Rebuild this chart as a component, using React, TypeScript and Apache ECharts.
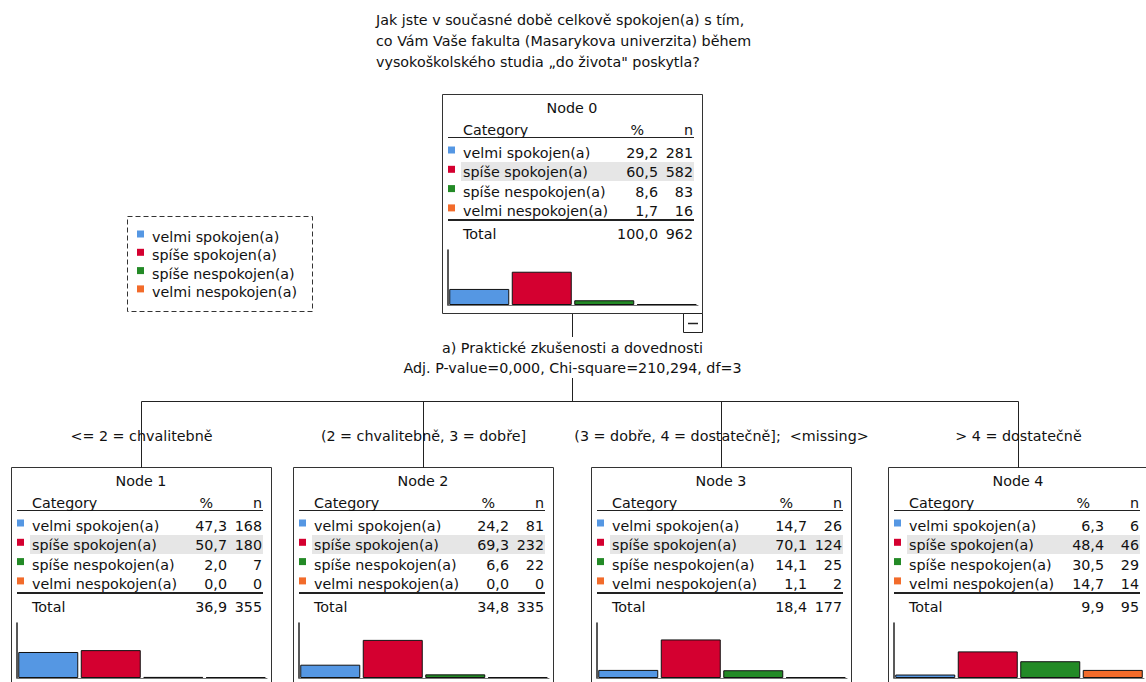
import React, { useEffect, useRef } from "react";
import * as echarts from "echarts";

// ---------- DATA ----------
const titleLines = [
  "Jak jste v současné době celkově spokojen(a) s tím,",
  "co Vám Vaše fakulta (Masarykova univerzita) během",
  "vysokoškolského studia „do života\" poskytla?",
];
const categories = [
  "velmi spokojen(a)",
  "spíše spokojen(a)",
  "spíše nespokojen(a)",
  "velmi nespokojen(a)",
];
const nodeNames = ["Node 0", "Node 1", "Node 2", "Node 3", "Node 4"];
const nodePct = [
  [29.2, 60.5, 8.6, 1.7],
  [47.3, 50.7, 2.0, 0.0],
  [24.2, 69.3, 6.6, 0.0],
  [14.7, 70.1, 14.1, 1.1],
  [6.3, 48.4, 30.5, 14.7],
];
const nodeN = [
  [281, 582, 83, 16],
  [168, 180, 7, 0],
  [81, 232, 22, 0],
  [26, 124, 25, 2],
  [6, 46, 29, 14],
];
const nodeTotalPct = [100.0, 36.9, 34.8, 18.4, 9.9];
const nodeTotalN = [962, 355, 335, 177, 95];
const splitVariable = "a) Praktické zkušenosti a dovednosti";
const splitStats = "Adj. P-value=0,000, Chi-square=210,294, df=3";
const branchLabels = [
  "<= 2 = chvalitebně",
  "(2 = chvalitebně, 3 = dobře]",
  "(3 = dobře, 4 = dostatečně];  <missing>",
  "> 4 = dostatečně",
];

// ---------- STYLE / LAYOUT ----------
const COLORS = ["#5597e3", "#d40030", "#238a26", "#f26b2a"];
const FONT = "DejaVu Sans";
const FS = 14.3;
const TXT = "#111";
const BOX_W = 260;
const BOX_H = 219;
const NODE_POS = [
  [442, 94],
  [11, 467],
  [293, 467],
  [591, 467],
  [888, 467],
];

const fmt = (v: number) => v.toFixed(1).replace(".", ",");

function txt(text: string, x: number, y: number, align = "left", extra: any = {}) {
  return {
    type: "text",
    z: 10,
    x,
    y,
    style: {
      text,
      fill: TXT,
      fontSize: FS,
      fontFamily: FONT,
      textAlign: align,
      align,
      textVerticalAlign: "middle",
      verticalAlign: "middle",
      ...extra,
    },
  };
}
function ln(x1: number, y1: number, x2: number, y2: number, w = 1, color = "#222") {
  return {
    type: "line",
    z: 5,
    shape: { x1, y1, x2, y2 },
    style: { stroke: color, lineWidth: w },
  };
}
function rc(x: number, y: number, w: number, h: number, style: any, z = 1) {
  return { type: "rect", z, shape: { x, y, width: w, height: h }, style };
}

function nodeGraphics(i: number) {
  const [L, T] = NODE_POS[i];
  const els: any[] = [];
  els.push(rc(L + 0.5, T + 0.5, BOX_W, BOX_H, { fill: "none", stroke: "#333", lineWidth: 1 }, 3));
  els.push(txt(nodeNames[i], L + BOX_W / 2, T + 14, "center"));
  els.push(txt("Category", L + 21, T + 36));
  els.push(txt("%", L + 202, T + 36, "right"));
  els.push(txt("n", L + 251, T + 36, "right"));
  els.push(ln(L + 6, T + 43.5, L + 252, T + 43.5, 1));
  // highlighted (modal) row
  els.push(rc(L + 19, T + 68, 233, 19, { fill: "#e6e6e6" }, 1));
  for (let k = 0; k < categories.length; k++) {
    const yc = T + 59 + k * 19.3;
    els.push(rc(L + 6, yc - 6.5, 7, 7, { fill: COLORS[k] }, 6));
    els.push(txt(categories[k], L + 21, yc));
    els.push(txt(fmt(nodePct[i][k]), L + 216, yc, "right"));
    els.push(txt(String(nodeN[i][k]), L + 251, yc, "right"));
  }
  els.push(ln(L + 6, T + 126, L + 252, T + 126, 2));
  els.push(txt("Total", L + 21, T + 140));
  els.push(txt(fmt(nodeTotalPct[i]), L + 216, T + 140, "right"));
  els.push(txt(String(nodeTotalN[i]), L + 251, T + 140, "right"));
  return els;
}

export default function App() {
  const ref = useRef<HTMLDivElement>(null);
  useEffect(() => {
    if (!ref.current) return;
    const chart = echarts.init(ref.current, null, { renderer: "svg" });

    const graphics: any[] = [];
    // title
    titleLines.forEach((t, j) => graphics.push(txt(t, 376, 20 + j * 21)));
    // legend
    graphics.push(
      rc(127.5, 216.5, 185, 95, { fill: "none", stroke: "#333", lineWidth: 1, lineDash: [5, 3] }, 3)
    );
    categories.forEach((c, k) => {
      const yc = 237 + k * 18.3;
      graphics.push(rc(137, yc - 6.5, 7, 7, { fill: COLORS[k] }, 6));
      graphics.push(txt(c, 152, yc));
    });
    // nodes
    for (let i = 0; i < nodeNames.length; i++) graphics.push(...nodeGraphics(i));
    // minus box for node 0
    const [L0, T0] = NODE_POS[0];
    const cx0 = L0 + BOX_W / 2 + 0.5;
    graphics.push(rc(L0 + BOX_W - 18.5, T0 + BOX_H + 0.5, 19, 19, { fill: "#fff", stroke: "#222", lineWidth: 1 }, 4));
    graphics.push(ln(L0 + BOX_W - 14, T0 + BOX_H + 10.5, L0 + BOX_W - 4, T0 + BOX_H + 10.5, 1.5));
    // split connectors
    graphics.push(ln(cx0, T0 + BOX_H + 1, cx0, 337, 1));
    graphics.push(txt(splitVariable, cx0, 348, "center"));
    graphics.push(txt(splitStats, cx0, 368, "center"));
    graphics.push(ln(cx0, 378, cx0, 401.5, 1));
    const childCx = NODE_POS.slice(1).map(([L]) => L + BOX_W / 2 + 0.5);
    graphics.push(ln(childCx[0], 401.5, childCx[childCx.length - 1], 401.5, 1));
    childCx.forEach((cx, j) => {
      graphics.push(ln(cx, 401.5, cx, NODE_POS[j + 1][1] + 1, 1));
      graphics.push(txt(branchLabels[j], cx, 436, "center"));
    });

    const grids: any[] = [];
    const xAxes: any[] = [];
    const yAxes: any[] = [];
    const series: any[] = [];
    NODE_POS.forEach(([L, T], i) => {
      grids.push({ left: L + 6, top: T + 156, width: 250, height: 55 });
      xAxes.push({
        type: "category",
        gridIndex: i,
        data: categories,
        offset: 3,
        axisLine: { show: true, lineStyle: { color: "#777", width: 1 } },
        axisTick: { show: false },
        axisLabel: { show: false },
        splitLine: { show: false },
      });
      yAxes.push({
        type: "value",
        gridIndex: i,
        min: 0,
        max: 100,
        axisLine: { show: true, lineStyle: { color: "#222", width: 1.5 } },
        axisTick: { show: false },
        axisLabel: { show: false },
        splitLine: { show: false },
      });
      series.push({
        type: "bar",
        xAxisIndex: i,
        yAxisIndex: i,
        barWidth: 60,
        barMinHeight: 1,
        silent: true,
        itemStyle: { borderColor: "#111", borderWidth: 1 },
        data: nodePct[i].map((v, k) => ({ value: v, itemStyle: { color: COLORS[k] } })),
      });
    });

    chart.setOption({
      animation: false,
      backgroundColor: "#fff",
      textStyle: { fontFamily: FONT },
      grid: grids,
      xAxis: xAxes,
      yAxis: yAxes,
      series,
      graphic: { elements: graphics },
    });
    return () => chart.dispose();
  }, []);
  return (
    <div
      ref={ref}
      style={{ position: "absolute", left: 0, top: 0, width: 1146, height: 682, background: "#fff" }}
    />
  );
}
